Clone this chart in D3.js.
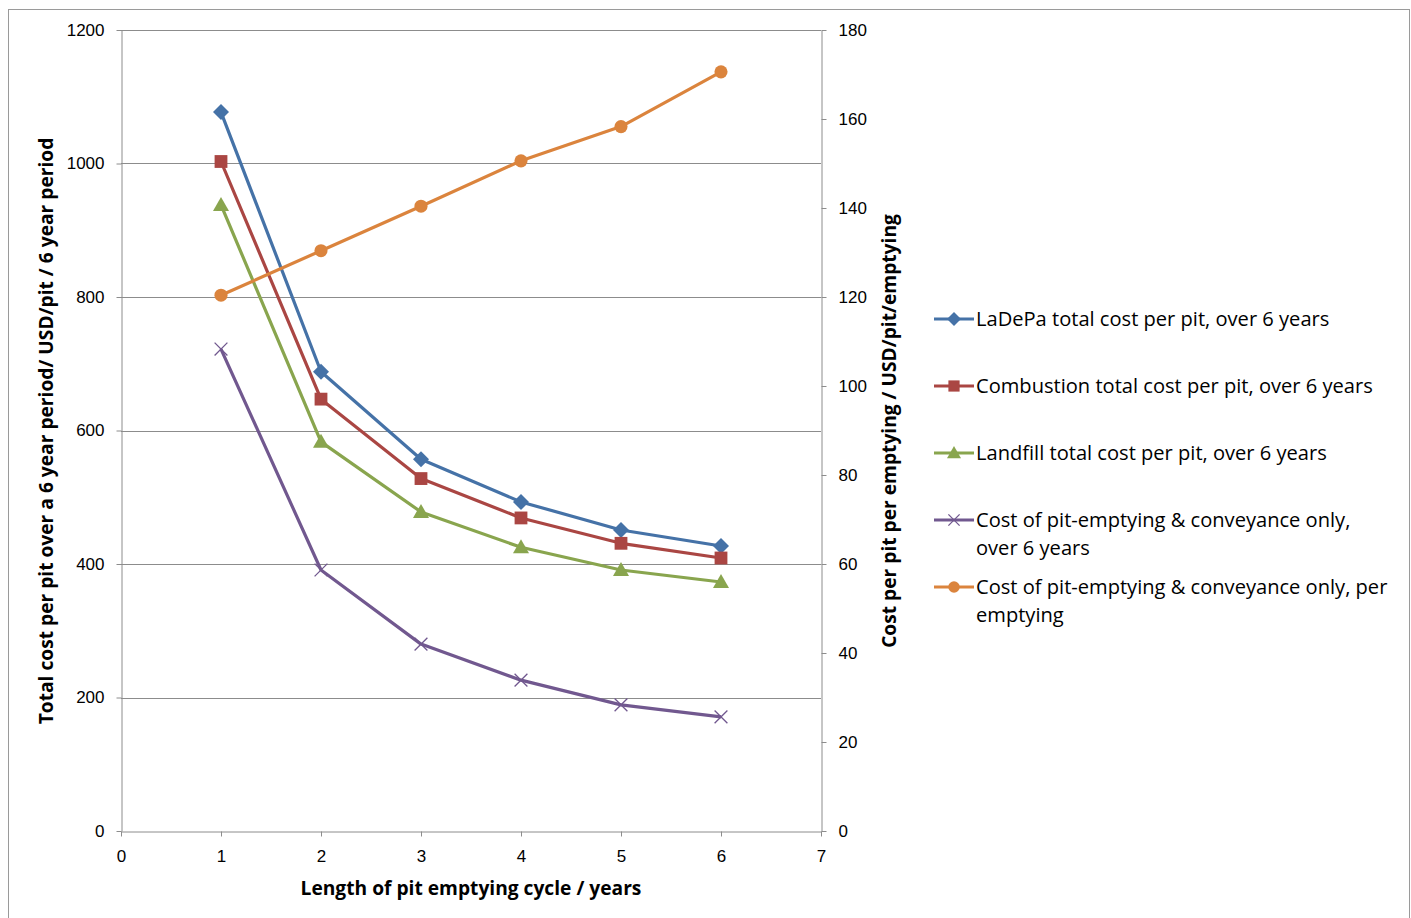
<!DOCTYPE html>
<html>
<head>
<meta charset="utf-8">
<script src="https://cdn.jsdelivr.net/npm/d3@7"></script>
<style>
  html, body { margin: 0; padding: 0; background: #fff; }
  svg { display: block; font-family: Lato, "Open Sans", sans-serif; }
  .title, .legend-text { font-family: "Open Sans", Lato, sans-serif; }
</style>
</head>
<body>
<svg id="chart" width="1411" height="918"></svg>
<script>
// Pit emptying cycle length (years)
const cycleYears = [1, 2, 3, 4, 5, 6];

// Total cost per pit over a 6 year period (USD/pit)
const ladepaTotal     = [1077, 688, 557, 493, 451, 427];
const combustionTotal = [1003, 647, 528, 469, 431, 409];
const landfillTotal   = [938, 583, 478, 425, 391, 373];
const emptyingOver6   = [722, 391, 280, 226, 189, 171];

// Cost per emptying (USD/pit/emptying), right axis
const emptyingPerEvent = [120.4, 130.4, 140.4, 150.6, 158.3, 170.6];

const xTicks = [0, 1, 2, 3, 4, 5, 6, 7];
const leftTicks = [0, 200, 400, 600, 800, 1000, 1200];
const rightTicks = [0, 20, 40, 60, 80, 100, 120, 140, 160, 180];

const seriesNames = [
  ["LaDePa total cost per pit, over 6 years"],
  ["Combustion total cost per pit, over 6 years"],
  ["Landfill total cost per pit, over 6 years"],
  ["Cost of pit-emptying & conveyance only,", "over 6 years"],
  ["Cost of pit-emptying & conveyance only, per", "emptying"]
];
const seriesColors = ["#4572a7", "#aa4643", "#89a54e", "#71588f", "#db843d"];
const seriesMarkers = ["diamond", "square", "triangle", "cross", "circle"];

const svg = d3.select("#chart");
const grey = "#8c8c8c";
const fmt = d3.format("d");

// outer frame
svg.append("rect")
  .attr("x", 8.5).attr("y", 9.5).attr("width", 1401).attr("height", 915)
  .attr("fill", "none").attr("stroke", "#9a9a9a").attr("stroke-width", 1);

const plot = { left: 121, right: 821, top: 30, bottom: 831 };

const x = d3.scaleLinear().domain([0, 7]).range([plot.left, plot.right]);
const yL = d3.scaleLinear().domain([0, 1200]).range([plot.bottom, plot.top]);
const yR = d3.scaleLinear().domain([0, 180]).range([plot.bottom, plot.top]);

// horizontal gridlines
svg.append("g")
  .selectAll("line")
  .data(leftTicks.filter(d => d > 0))
  .join("line")
  .attr("x1", plot.left).attr("x2", plot.right)
  .attr("y1", d => Math.round(yL(d)) + 0.5).attr("y2", d => Math.round(yL(d)) + 0.5)
  .attr("stroke", grey).attr("stroke-width", 1);

function styleAxis(g) {
  g.selectAll(".domain").attr("stroke", grey);
  g.selectAll(".tick line").attr("stroke", grey);
  g.selectAll(".tick text").attr("fill", "#000").style("font-size", "17px");
}

// left axis
svg.append("g")
  .attr("transform", `translate(${plot.left + 0.5},0)`)
  .call(d3.axisLeft(yL).tickValues(leftTicks).tickFormat(fmt).tickSize(5).tickSizeOuter(0).tickPadding(12))
  .call(styleAxis);

// right axis
svg.append("g")
  .attr("transform", `translate(${plot.right + 0.5},0)`)
  .call(d3.axisRight(yR).tickValues(rightTicks).tickFormat(fmt).tickSize(5).tickSizeOuter(0).tickPadding(12))
  .call(styleAxis);

// bottom axis
svg.append("g")
  .attr("transform", `translate(0,${plot.bottom + 0.5})`)
  .call(d3.axisBottom(x).tickValues(xTicks).tickFormat(fmt).tickSize(5).tickSizeOuter(0).tickPadding(13))
  .call(styleAxis);

// axis titles
svg.append("text").attr("class", "title")
  .attr("x", 471).attr("y", 895)
  .attr("text-anchor", "middle")
  .style("font-size", "19.2px").style("font-weight", "bold")
  .text("Length of pit emptying cycle / years");

svg.append("text").attr("class", "title")
  .attr("transform", `translate(53,431) rotate(-90)`)
  .attr("text-anchor", "middle")
  .style("font-size", "19.2px").style("font-weight", "bold")
  .text("Total cost per pit over a 6 year period/ USD/pit / 6 year period");

svg.append("text").attr("class", "title")
  .attr("transform", `translate(896,431) rotate(-90)`)
  .attr("text-anchor", "middle")
  .style("font-size", "19.2px").style("font-weight", "bold")
  .text("Cost per pit per emptying / USD/pit/emptying");

// markers
function drawMarker(sel, type, color, size) {
  const s = size;
  if (type === "diamond") {
    sel.append("path").attr("d", `M0,${-s}L${s},0L0,${s}L${-s},0Z`).attr("fill", color);
  } else if (type === "square") {
    sel.append("rect").attr("x", -s * 0.8).attr("y", -s * 0.8)
      .attr("width", s * 1.6).attr("height", s * 1.6).attr("fill", color);
  } else if (type === "triangle") {
    sel.append("path").attr("d", `M0,${-s}L${s},${s * 0.75}L${-s},${s * 0.75}Z`).attr("fill", color);
  } else if (type === "cross") {
    sel.append("path").attr("d", `M${-s * 0.8},${-s * 0.8}L${s * 0.8},${s * 0.8}M${-s * 0.8},${s * 0.8}L${s * 0.8},${-s * 0.8}`)
      .attr("stroke", color).attr("stroke-width", 1.3).attr("fill", "none");
  } else if (type === "circle") {
    sel.append("circle").attr("r", s * 0.82).attr("fill", color);
  }
}

const series = [
  { values: ladepaTotal, y: yL },
  { values: combustionTotal, y: yL },
  { values: landfillTotal, y: yL },
  { values: emptyingOver6, y: yL },
  { values: emptyingPerEvent, y: yR }
];

series.forEach((s, i) => {
  const pts = cycleYears.map((c, j) => [x(c), s.y(s.values[j])]);
  const g = svg.append("g");
  g.append("path")
    .attr("d", d3.line()(pts))
    .attr("fill", "none")
    .attr("stroke", seriesColors[i])
    .attr("stroke-width", 3.2)
    .attr("stroke-linejoin", "round");
  pts.forEach(p => {
    const m = g.append("g").attr("transform", `translate(${p[0]},${p[1]})`);
    drawMarker(m, seriesMarkers[i], seriesColors[i], 8);
  });
});

// legend
const legendY = [319, 386, 453, 520, 587];
const legend = svg.append("g");
seriesNames.forEach((lines, i) => {
  const g = legend.append("g").attr("transform", `translate(934,${legendY[i]})`);
  g.append("line").attr("x1", 0).attr("x2", 40).attr("y1", 0).attr("y2", 0)
    .attr("stroke", seriesColors[i]).attr("stroke-width", 3.2);
  const m = g.append("g").attr("transform", "translate(20,0)");
  drawMarker(m, seriesMarkers[i], seriesColors[i], 7);
  lines.forEach((t, k) => {
    g.append("text").attr("class", "legend-text")
      .attr("x", 42).attr("y", 7 + k * 28)
      .style("font-size", "20.1px")
      .text(t);
  });
});
</script>
</body>
</html>
